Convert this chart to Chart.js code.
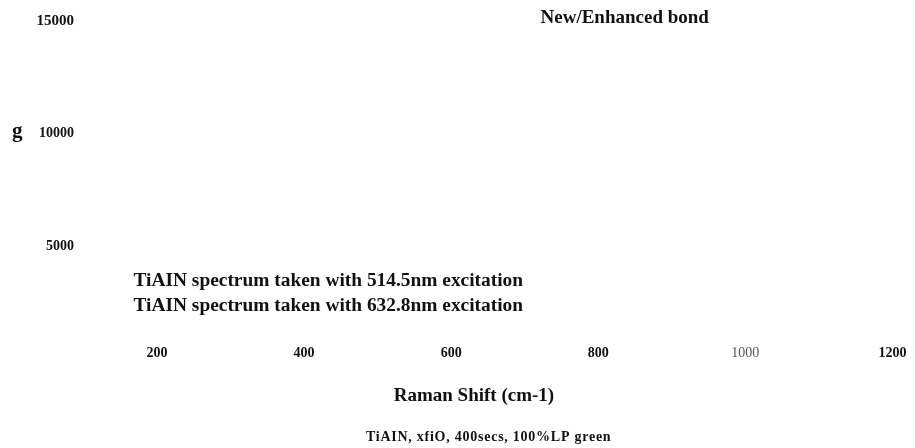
<!DOCTYPE html>
<html>
<head>
<meta charset="utf-8">
<script src="https://cdn.jsdelivr.net/npm/chart.js@4/dist/chart.umd.min.js"></script>
<style>
  html, body { margin: 0; padding: 0; background: #fff; }
  #wrap { position: relative; width: 915px; height: 448px; }
</style>
</head>
<body>
<div id="wrap"><canvas id="raman"></canvas></div>
<script>
// ===== DATA =====
// Raman shift axis (cm-1) and intensity axis (counts)
const xTickValues = [200, 400, 600, 800, 1000, 1200];
const yTickValues = [5000, 10000, 15000];
const xRange = [200, 1200];
const yRange = [1000, 15500];

// the two spectra (no trace points recorded in this figure)
const seriesLabels = [
  "TiAIN spectrum taken with 514.5nm excitation",
  "TiAIN spectrum taken with 632.8nm excitation",
];
const spectrum514 = [];
const spectrum633 = [];

// free text placed in data units: [shift, counts]
const bondNote = { text: "New/Enhanced bond", at: [836, 14920] };
const legendAt = [[168, 3222], [168, 2111]];
const yTitle = { text: "g", at: [10, 9844] };
const xTitle = { text: "Raman Shift (cm-1)", at: [631, -1911] };
const caption = { text: "TiAIN, xfiO, 400secs, 100%LP green", at: [651, -3653] };

const SERIF = "'Liberation Serif', 'Times New Roman', serif";

// ===== TEXT PLUGIN =====
// draws the notes, legend lines and axis titles at data positions
const notesPlugin = {
  id: "notes",
  afterDraw(chart) {
    const { ctx, scales } = chart;
    const put = (text, at, font, align, spacing) => {
      ctx.save();
      ctx.font = font;
      ctx.fillStyle = "#111";
      ctx.textAlign = align || "center";
      ctx.textBaseline = "alphabetic";
      if (spacing) ctx.letterSpacing = spacing;
      ctx.fillText(text, scales.x.getPixelForValue(at[0]), scales.y.getPixelForValue(at[1]));
      ctx.restore();
    };
    put(bondNote.text, bondNote.at, "bold 19px " + SERIF);
    chart.data.datasets.forEach((ds, i) => {
      put(ds.label, legendAt[i], "bold 19.4px " + SERIF, "left");
    });
    put(yTitle.text, yTitle.at, "bold 21px " + SERIF);
    put(xTitle.text, xTitle.at, "bold 19px " + SERIF);
    put(caption.text, caption.at, "bold 14px " + SERIF, "center", "0.75px");
  },
};

// tick fonts vary a little between labels
function yTickFont(c) {
  const v = c.tick && c.tick.value;
  if (v === 15000) return { family: SERIF, size: 15, weight: "bold" };
  return { family: SERIF, size: 14, weight: "bold" };
}
function xTickFont(c) {
  const v = c.tick && c.tick.value;
  if (v === 1000) return { family: SERIF, size: 14, weight: "normal" };
  return { family: SERIF, size: 14, weight: "bold" };
}

const chart = new Chart(document.getElementById("raman"), {
  type: "line",
  data: {
    datasets: [
      { label: seriesLabels[0], data: spectrum514, borderColor: "#000", borderWidth: 1, pointRadius: 0 },
      { label: seriesLabels[1], data: spectrum633, borderColor: "#000", borderWidth: 1, pointRadius: 0 },
    ],
  },
  options: {
    responsive: true,
    maintainAspectRatio: false,
    animation: false,
    layout: { padding: { top: 9.75, right: 18, bottom: 0, left: 0 } },
    plugins: {
      legend: { display: false },
      tooltip: { enabled: false },
    },
    scales: {
      x: {
        type: "linear",
        min: xRange[0],
        max: xRange[1],
        grid: { display: false, drawTicks: false },
        border: { display: false },
        afterBuildTicks: (s) => { s.ticks = xTickValues.map((v) => ({ value: v })); },
        afterFit: (s) => { s.height = 112; },
        ticks: {
          padding: 8.6,
          font: xTickFont,
          color: (c) => (c.tick && c.tick.value === 1000 ? "#555" : "#111"),
          callback: (v) => String(v),
        },
      },
      y: {
        type: "linear",
        min: yRange[0],
        max: yRange[1],
        grid: { display: false, drawTicks: false },
        border: { display: false },
        afterBuildTicks: (s) => { s.ticks = yTickValues.map((v) => ({ value: v })); },
        afterFit: (s) => {
          // wide label gap: keep it from adding vertical padding
          s.width = 157;
          s.paddingTop = 0;
          s.paddingBottom = 0;
        },
        ticks: {
          padding: 83,
          font: yTickFont,
          color: "#111",
          callback: (v) => String(v),
        },
      },
    },
  },
  plugins: [notesPlugin],
});
</script>
</body>
</html>
